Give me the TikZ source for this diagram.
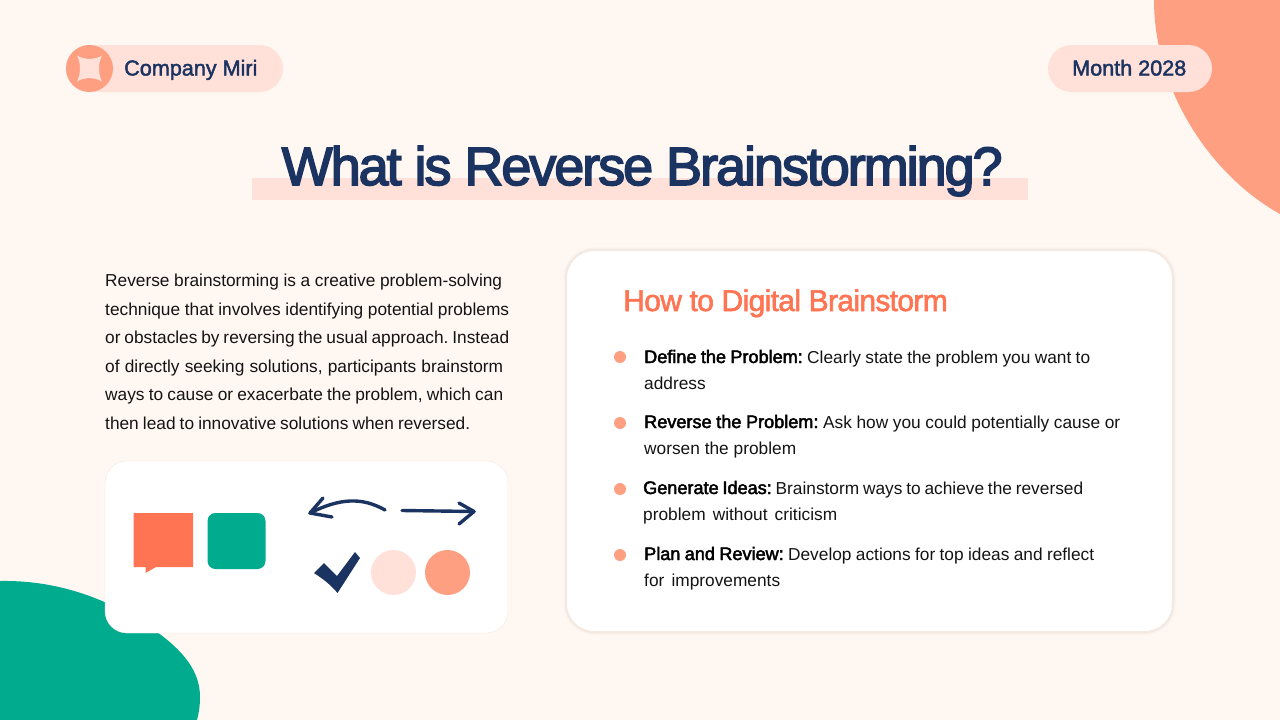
\documentclass[tikz,border=0pt]{standalone}
\usepackage{fontspec}
\setmainfont{Liberation Sans}
\newfontfamily\headf[LetterSpace=-3.8,FakeBold=3]{Liberation Sans}
\newfontfamily\subf[LetterSpace=-2.2,FakeBold=2]{Liberation Sans}
\newfontfamily\pillf[FakeBold=2]{Liberation Sans}
\newfontfamily\bodyf{Liberation Sans}
\newfontfamily\boldf[FakeBold=2.5]{Liberation Sans}
\definecolor{navy}{HTML}{1B3361}
\definecolor{bgc}{HTML}{FFF7F2}
\definecolor{peach}{HTML}{FF9F82}
\definecolor{lpeach}{HTML}{FFE1D9}
\definecolor{coral}{HTML}{FF7452}
\definecolor{teal}{HTML}{00AB8E}
\definecolor{edgec}{HTML}{F3E9E1}
\definecolor{softc}{HTML}{F9F1EB}
\definecolor{inkc}{HTML}{141414}
\tikzset{
 body/.style={anchor=base west,inner sep=0,font=\bodyf\fontsize{17.3}{20}\selectfont,text=inkc},
 pilltext/.style={anchor=base west,inner sep=0,font=\pillf\fontsize{21.6}{24}\selectfont,text=navy},
 card/.style={fill=white,draw=edgec},
 dot/.style={circle,fill=peach,inner sep=0,minimum size=12pt},
 nav/.style={draw=navy,line width=3.4pt,line cap=round,line join=round}
}
\newcommand\bd[1]{{\boldf\fontsize{18.1}{20}\selectfont\color{black} #1}}
\newcommand\fitl[2]{\makebox[#1pt][s]{\frenchspacing\spaceskip=.1em plus 1fil\relax #2}}
\begin{document}
\begin{tikzpicture}[x=1pt,y=-1pt]
\useasboundingbox (0,0) rectangle (1280,720);
\fill[bgc] (0,0) rectangle (1280,720);
% blobs
\fill[peach] (1154,0) .. controls (1154,90) and (1210,175) .. (1280,214) -- (1280,0) -- cycle;
\fill[teal] (0,581) .. controls (55,580) and (105,597) .. (150,627) .. controls (185,651) and (200,672) .. (200,697) .. controls (200,705) and (199,713) .. (197,720) -- (0,720) -- cycle;
% pills
\fill[lpeach,rounded corners=23.5pt] (66,45) rectangle (283,92);
\fill[peach] (89.5,68.5) circle (23.5);
\fill[lpeach] (77,55.5) .. controls (84,60) and (95,60) .. (102,55.5) .. controls (98,63) and (98,74) .. (102,81.5) .. controls (95,77) and (84,77) .. (77,81.5) .. controls (81,74) and (81,63) .. (77,55.5) -- cycle;
\node[pilltext] (company) at (124,75.5) {Company Miri};
\fill[lpeach,rounded corners=23.5pt] (1048,45) rectangle (1212,92);
\node[pilltext] (month) at (1072,75.5) {Month 2028};
% title
\fill[lpeach] (252,178) rectangle (1028,200);
\node[anchor=base west,inner sep=0,text=navy,font=\headf\fontsize{54}{60}\selectfont] (title) at (281.5,185) {What is Reverse Brainstorming?};
% left text
\node[body] (l1) at (105,286) {\fitl{397}{Reverse brainstorming is a creative problem-solving}};
\node[body] (l2) at (105,315) {\fitl{404}{technique that involves identifying potential problems}};
\node[body] (l3) at (105,343) {\fitl{404}{or obstacles by reversing the usual approach. Instead}};
\node[body] (l4) at (105,372) {\fitl{398}{of directly seeking solutions, participants brainstorm}};
\node[body] (l5) at (105,400) {\fitl{398}{ways to cause or exacerbate the problem, which can}};
\node[body] (l6) at (105,429) {\fitl{365}{then lead to innovative solutions when reversed.}};
% left card
\draw[card,rounded corners=22pt] (105,461) rectangle (508,633);
\fill[coral] (133.5,513) -- (193,513) -- (193,567) -- (156,567) -- (145.5,573) -- (145.5,567) -- (133.5,567) -- cycle;
\fill[teal,rounded corners=8pt] (207.5,513) rectangle (265.5,569);
\draw[nav] (385,510) .. controls (362,497) and (340,498) .. (310,513);
\draw[nav] (323,498) -- (310,513) -- (332,517);
\draw[nav] (402,510.5) -- (474,511.5);
\draw[nav] (459,503) -- (474,511.5) -- (459,524);
\fill[navy] (314,573) -- (324,563) -- (337,576) -- (355,552) -- (360,558) -- (337.5,593) .. controls (330,584) and (323,579) .. (314,573) -- cycle;
\fill[lpeach] (393.5,572.5) circle (22.5);
\fill[peach] (447.5,572.5) circle (22.5);
% right card
\draw[softc,line width=5pt,rounded corners=28pt] (566,250) rectangle (1173,632);
\draw[card,line width=2pt,rounded corners=28pt] (566,250) rectangle (1173,632);
\node[anchor=base west,inner sep=0,text=coral,font=\subf\fontsize{30}{34}\selectfont] (howto) at (623,311) {How to Digital Brainstorm};
\node[dot] (d1) at (620,357) {};
\node[dot] (d2) at (620,423) {};
\node[dot] (d3) at (620,489) {};
\node[dot] (d4) at (620,555) {};
\node[body] (a1) at (644,363) {\fitl{446}{\bd{Define the Problem:} Clearly state the problem you want to}};
\node[body] (a2) at (644,389) {address};
\node[body] (b1) at (644,428) {\fitl{476}{\bd{Reverse the Problem:} Ask how you could potentially cause or}};
\node[body] (b2) at (644,454) {\fitl{152}{worsen the problem}};
\node[body] (c1) at (643,494) {\fitl{440}{\bd{Generate Ideas:} Brainstorm ways to achieve the reversed}};
\node[body] (c2) at (643,520) {\fitl{194}{problem without criticism}};
\node[body] (e1) at (644,560) {\fitl{450}{\bd{Plan and Review:} Develop actions for top ideas and reflect}};
\node[body] (e2) at (644,586) {\fitl{136}{for improvements}};
\end{tikzpicture}
\end{document}
